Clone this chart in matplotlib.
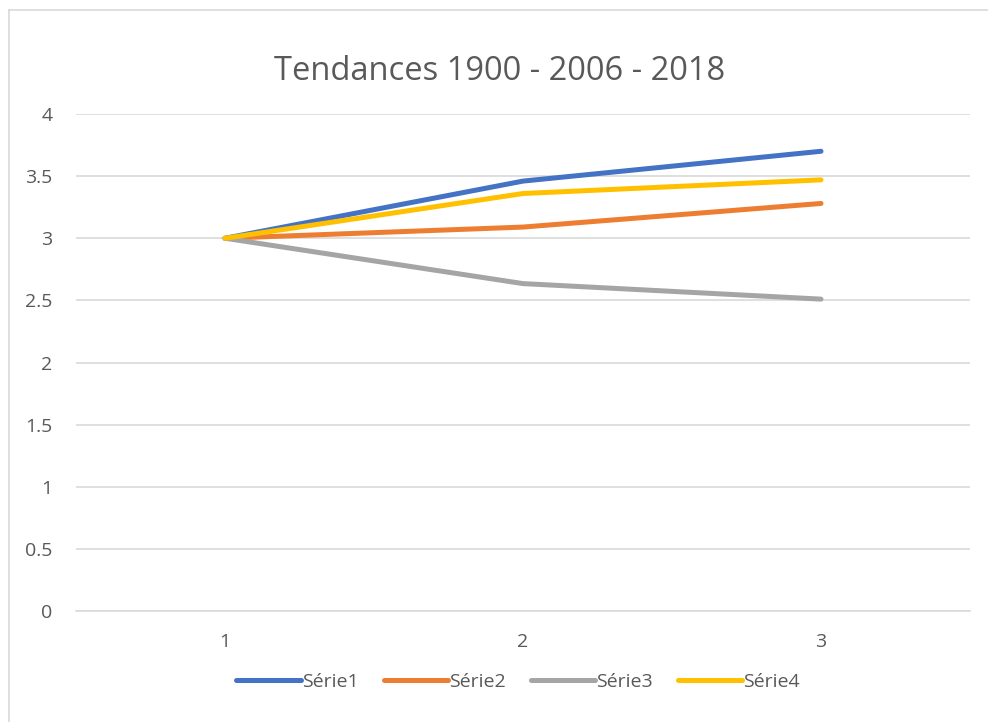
import matplotlib
matplotlib.use("Agg")
import matplotlib.pyplot as plt
from matplotlib.lines import Line2D

# ── Data ───────────────────────────────────────────────────────────────────────
CATEGORIES = [1, 2, 3]
SERIE1 = [3.0, 3.46, 3.70]
SERIE2 = [3.0, 3.09, 3.28]
SERIE3 = [3.0, 2.635, 2.51]
SERIE4 = [3.0, 3.36, 3.47]
SERIES = [("Série1", SERIE1), ("Série2", SERIE2), ("Série3", SERIE3), ("Série4", SERIE4)]
Y_TICKS = [0, 0.5, 1, 1.5, 2, 2.5, 3, 3.5, 4]
TITLE = "Tendances 1900 - 2006 - 2018"

COLOURS = ["#4472C4", "#ED7D31", "#A5A5A5", "#FFC000"]
TEXT_C = "#595959"
GRID_C = "#D9D9D9"

plt.rcParams["font.family"] = ["Open Sans", "DejaVu Sans"]

W, H = 988, 722
fig = plt.figure(figsize=(W / 100, H / 100), dpi=100)

# chart area border (top / left visible in reference)
fig.add_artist(Line2D([9 / W, 1], [1 - 10 / H, 1 - 10 / H], color=GRID_C, lw=1.2))
fig.add_artist(Line2D([9 / W, 9 / W], [0, 1 - 10 / H], color=GRID_C, lw=1.2))

ax = fig.add_axes([76 / W, 1 - 611 / H, (970 - 76) / W, (611 - 114) / H])

for (name, vals), c in zip(SERIES, COLOURS):
    ax.plot(CATEGORIES, vals, color=c, lw=3.6, solid_capstyle="round",
            solid_joinstyle="round", label=name, zorder=3)

ax.set_xlim(0.5, 3.5)
ax.set_ylim(0, 4)
ax.set_yticks(Y_TICKS)
ax.set_yticklabels([f"{t:g}" for t in Y_TICKS])
ax.set_xticks(CATEGORIES)
ax.grid(axis="y", color=GRID_C, lw=1.2, zorder=0)
for s in ["top", "right", "left"]:
    ax.spines[s].set_visible(False)
ax.spines["bottom"].set_color(GRID_C)
ax.spines["bottom"].set_linewidth(1.2)
ax.tick_params(length=0, colors=TEXT_C, labelsize=14)
ax.tick_params(axis="y", pad=17)
ax.tick_params(axis="x", pad=16)

fig.text(500 / W, 1 - 72 / H, TITLE, ha="center", va="center", fontsize=23.5, color=TEXT_C)

leg = fig.legend(loc="center", bbox_to_anchor=(518 / W, 1 - 682 / H), ncol=4,
                 frameon=False, fontsize=14, handlelength=3.3, handletextpad=0.05,
                 columnspacing=1.3)
for t in leg.get_texts():
    t.set_color(TEXT_C)

fig.savefig("out.png", dpi=100)
